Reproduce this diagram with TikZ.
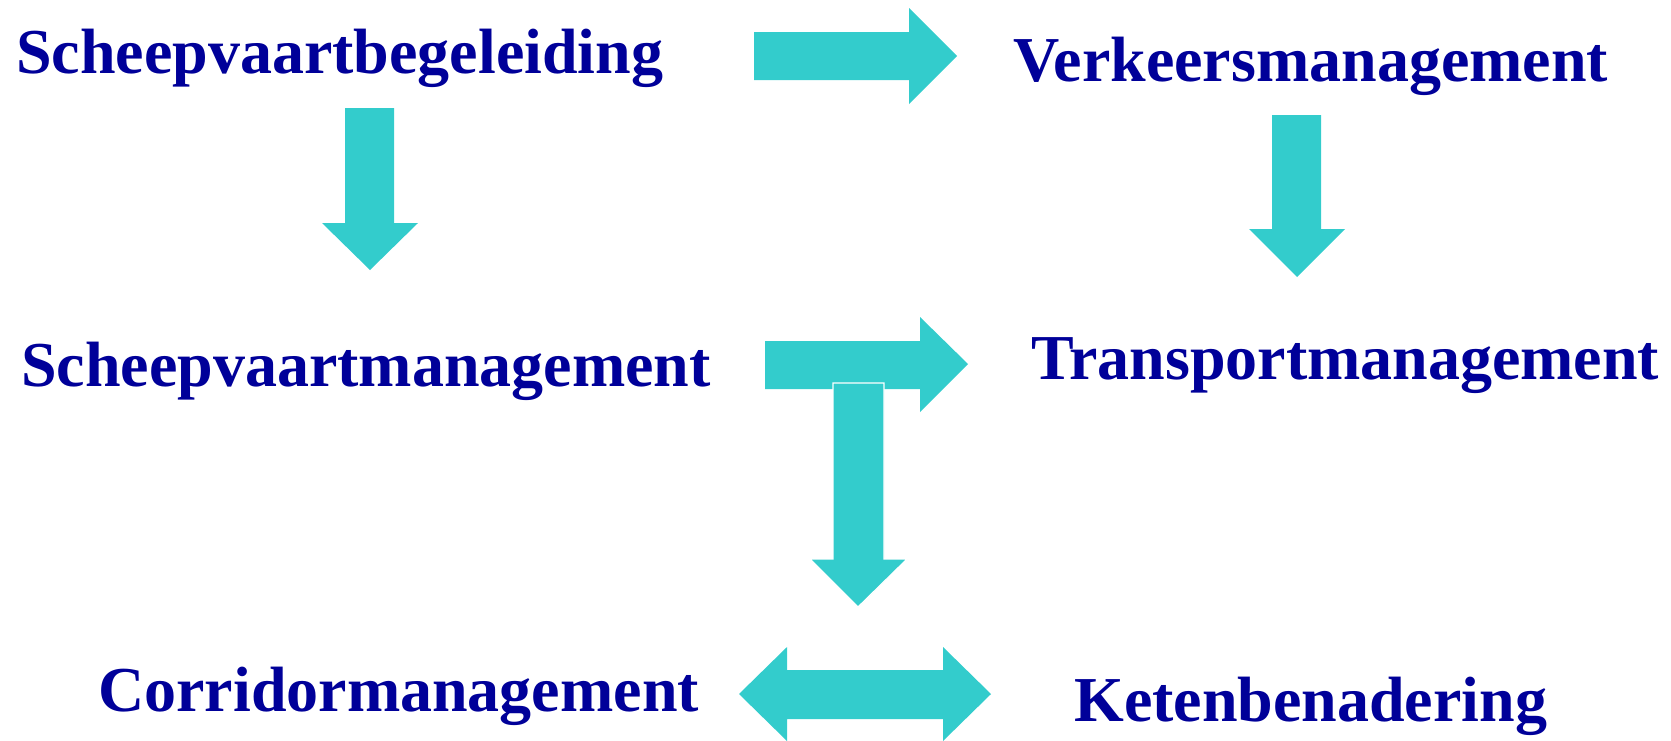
\documentclass[tikz,border=0pt]{standalone}
\usepackage{fontspec}
\setmainfont{Liberation Serif}
\definecolor{lbl}{HTML}{000099}
\definecolor{arr}{HTML}{33CCCC}
\begin{document}
\begin{tikzpicture}[x=1pt,y=-1pt,
  lab/.style={anchor=base west,inner sep=0pt,text=lbl,font=\fontsize{64}{70}\selectfont\bfseries},
  blk/.style={fill=arr,draw=none}]
\useasboundingbox (0,0) rectangle (1671,740);
% labels
\node[lab] (sb) at (16,73) {Scheepvaartbegeleiding};
\node[lab] (vm) at (1013,81) {Verkeersmanagement};
\node[lab] (sm) at (21,386) {Scheepvaartmanagement};
\node[lab] (tm) at (1031,379) {Transportmanagement};
\node[lab] (cm) at (98,711) {Corridormanagement};
\node[lab] (kb) at (1074,721) {Ketenbenadering};
% arrow sb -> vm
\fill[blk] (754,32) -- (909,32) -- (909,8) -- (957,56) -- (909,104) -- (909,80) -- (754,80) -- cycle;
% arrow sb -> sm
\fill[blk] (345,108) -- (394,108) -- (394,223) -- (418,223) -- (370,270) -- (322,223) -- (345,223) -- cycle;
% arrow vm -> tm
\fill[blk] (1272,115) -- (1321,115) -- (1321,229) -- (1345,229) -- (1297,277) -- (1249,229) -- (1272,229) -- cycle;
% arrow sm -> tm
\fill[blk] (765,341) -- (920,341) -- (920,317) -- (968,364) -- (920,412) -- (920,389) -- (765,389) -- cycle;
% arrow down to corridor/keten
\filldraw[fill=arr,draw=white,line width=1.2pt] (833,383) -- (884,383) -- (884,559) -- (907,559) -- (858,607) -- (810,559) -- (833,559) -- cycle;
% double arrow cm <-> kb
\fill[blk] (739,694) -- (787,647) -- (787,670) -- (943,670) -- (943,647) -- (991,694) -- (943,741) -- (943,719) -- (787,719) -- (787,741) -- cycle;
\end{tikzpicture}
\end{document}
